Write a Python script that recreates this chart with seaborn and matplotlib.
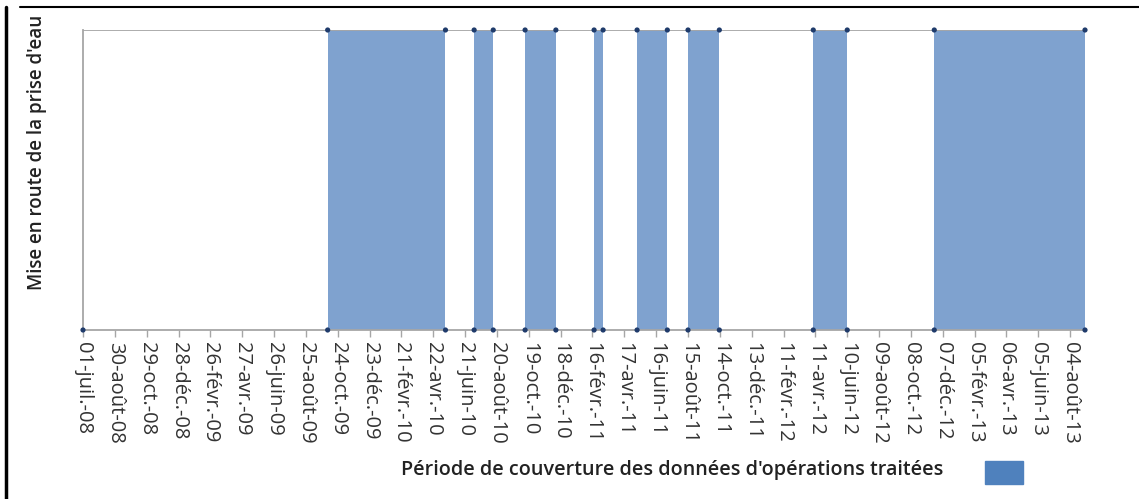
import matplotlib
matplotlib.use("Agg")
import matplotlib.pyplot as plt
from matplotlib.lines import Line2D
from matplotlib.patches import Rectangle
import seaborn as sns
import pandas as pd

# ---- data ----
start_date = "2008-07-01"
on_dates = ["2009-10-05", "2010-07-08", "2010-10-12", "2011-02-19",
            "2011-05-11", "2011-08-15", "2012-04-07", "2012-11-21"]
off_dates = ["2010-05-15", "2010-08-13", "2010-12-09", "2011-03-08",
             "2011-07-07", "2011-10-13", "2012-06-10", "2013-09-01"]
tick_labels = ["01-juil.-08", "30-août-08", "29-oct.-08", "28-déc.-08", "26-févr.-09",
               "27-avr.-09", "26-juin-09", "25-août-09", "24-oct.-09", "23-déc.-09",
               "21-févr.-10", "22-avr.-10", "21-juin-10", "20-août-10", "19-oct.-10",
               "18-déc.-10", "16-févr.-11", "17-avr.-11", "16-juin-11", "15-août-11",
               "14-oct.-11", "13-déc.-11", "11-févr.-12", "11-avr.-12", "10-juin-12",
               "09-août-12", "08-oct.-12", "07-déc.-12", "05-févr.-13", "06-avr.-13",
               "05-juin-13", "04-août-13"]
tick_step_days = 60
y_label = "Mise en route de la prise d'eau"
x_label = "Période de couverture des données d'opérations traitées"

# build step series
rows = [(pd.Timestamp(start_date), 0)]
for a, b in zip(on_dates, off_dates):
    rows += [(pd.Timestamp(a), 0), (pd.Timestamp(a), 1),
             (pd.Timestamp(b), 1), (pd.Timestamp(b), 0)]
df = pd.DataFrame(rows, columns=["date", "value"])

sns.set_theme(style="white")
plt.rcParams['font.family'] = ['Open Sans', 'DejaVu Sans']

fig = plt.figure(figsize=(11.39, 4.99), dpi=100)
ax = fig.add_axes([83/1139, 1-330/499, (1085-83)/1139, 300/499])

fill_col = "#7FA2CF"
ax.fill_between(df["date"], df["value"], 0, color=fill_col, linewidth=0)
sns.scatterplot(data=df, x="date", y="value", ax=ax, color="#1F3B6B", s=14,
                edgecolor="none", clip_on=False, zorder=5, legend=False)

ax.set_xlim(pd.Timestamp(start_date), pd.Timestamp(off_dates[-1]))
ax.set_ylim(0, 1)
ax.axhline(1, color="#A6A6A6", lw=1.3, zorder=1)

ticks = [pd.Timestamp(start_date) + pd.Timedelta(days=tick_step_days * i) for i in range(len(tick_labels))]
ax.set_xticks(ticks)
ax.set_xticklabels(tick_labels, rotation=270, fontsize=14.5, color="#333333")
ax.set_yticks([])
ax.tick_params(axis="x", direction="out", length=5, width=1, color="#A6A6A6", pad=4, bottom=True)
for s in ["top", "right"]:
    ax.spines[s].set_visible(False)
for s in ["left", "bottom"]:
    ax.spines[s].set_color("#A6A6A6")
    ax.spines[s].set_linewidth(1.3)
ax.set_xlabel("")
ax.set_ylabel("")

fig.text(37/1139, 1-152/499, y_label, rotation=90, ha="center", va="center",
         fontsize=13.5, fontweight="semibold", color="#222222")
fig.text(672/1139, 1-470/499, x_label, ha="center", va="center",
         fontsize=14.2, fontweight="semibold", color="#222222")
fig.patches.append(Rectangle((985/1139, 1-484/499), 38/1139, 23/499,
                             transform=fig.transFigure, color="#4F81BD", figure=fig))

# outer frame lines
fig.lines.append(Line2D([6/1139, 6/1139], [0, 1-7/499], transform=fig.transFigure,
                        color="black", lw=2.5, figure=fig))
fig.lines.append(Line2D([20/1139, 1], [1-7/499, 1-7/499], transform=fig.transFigure,
                        color="black", lw=1.5, figure=fig))

fig.savefig("out.png", dpi=100)
